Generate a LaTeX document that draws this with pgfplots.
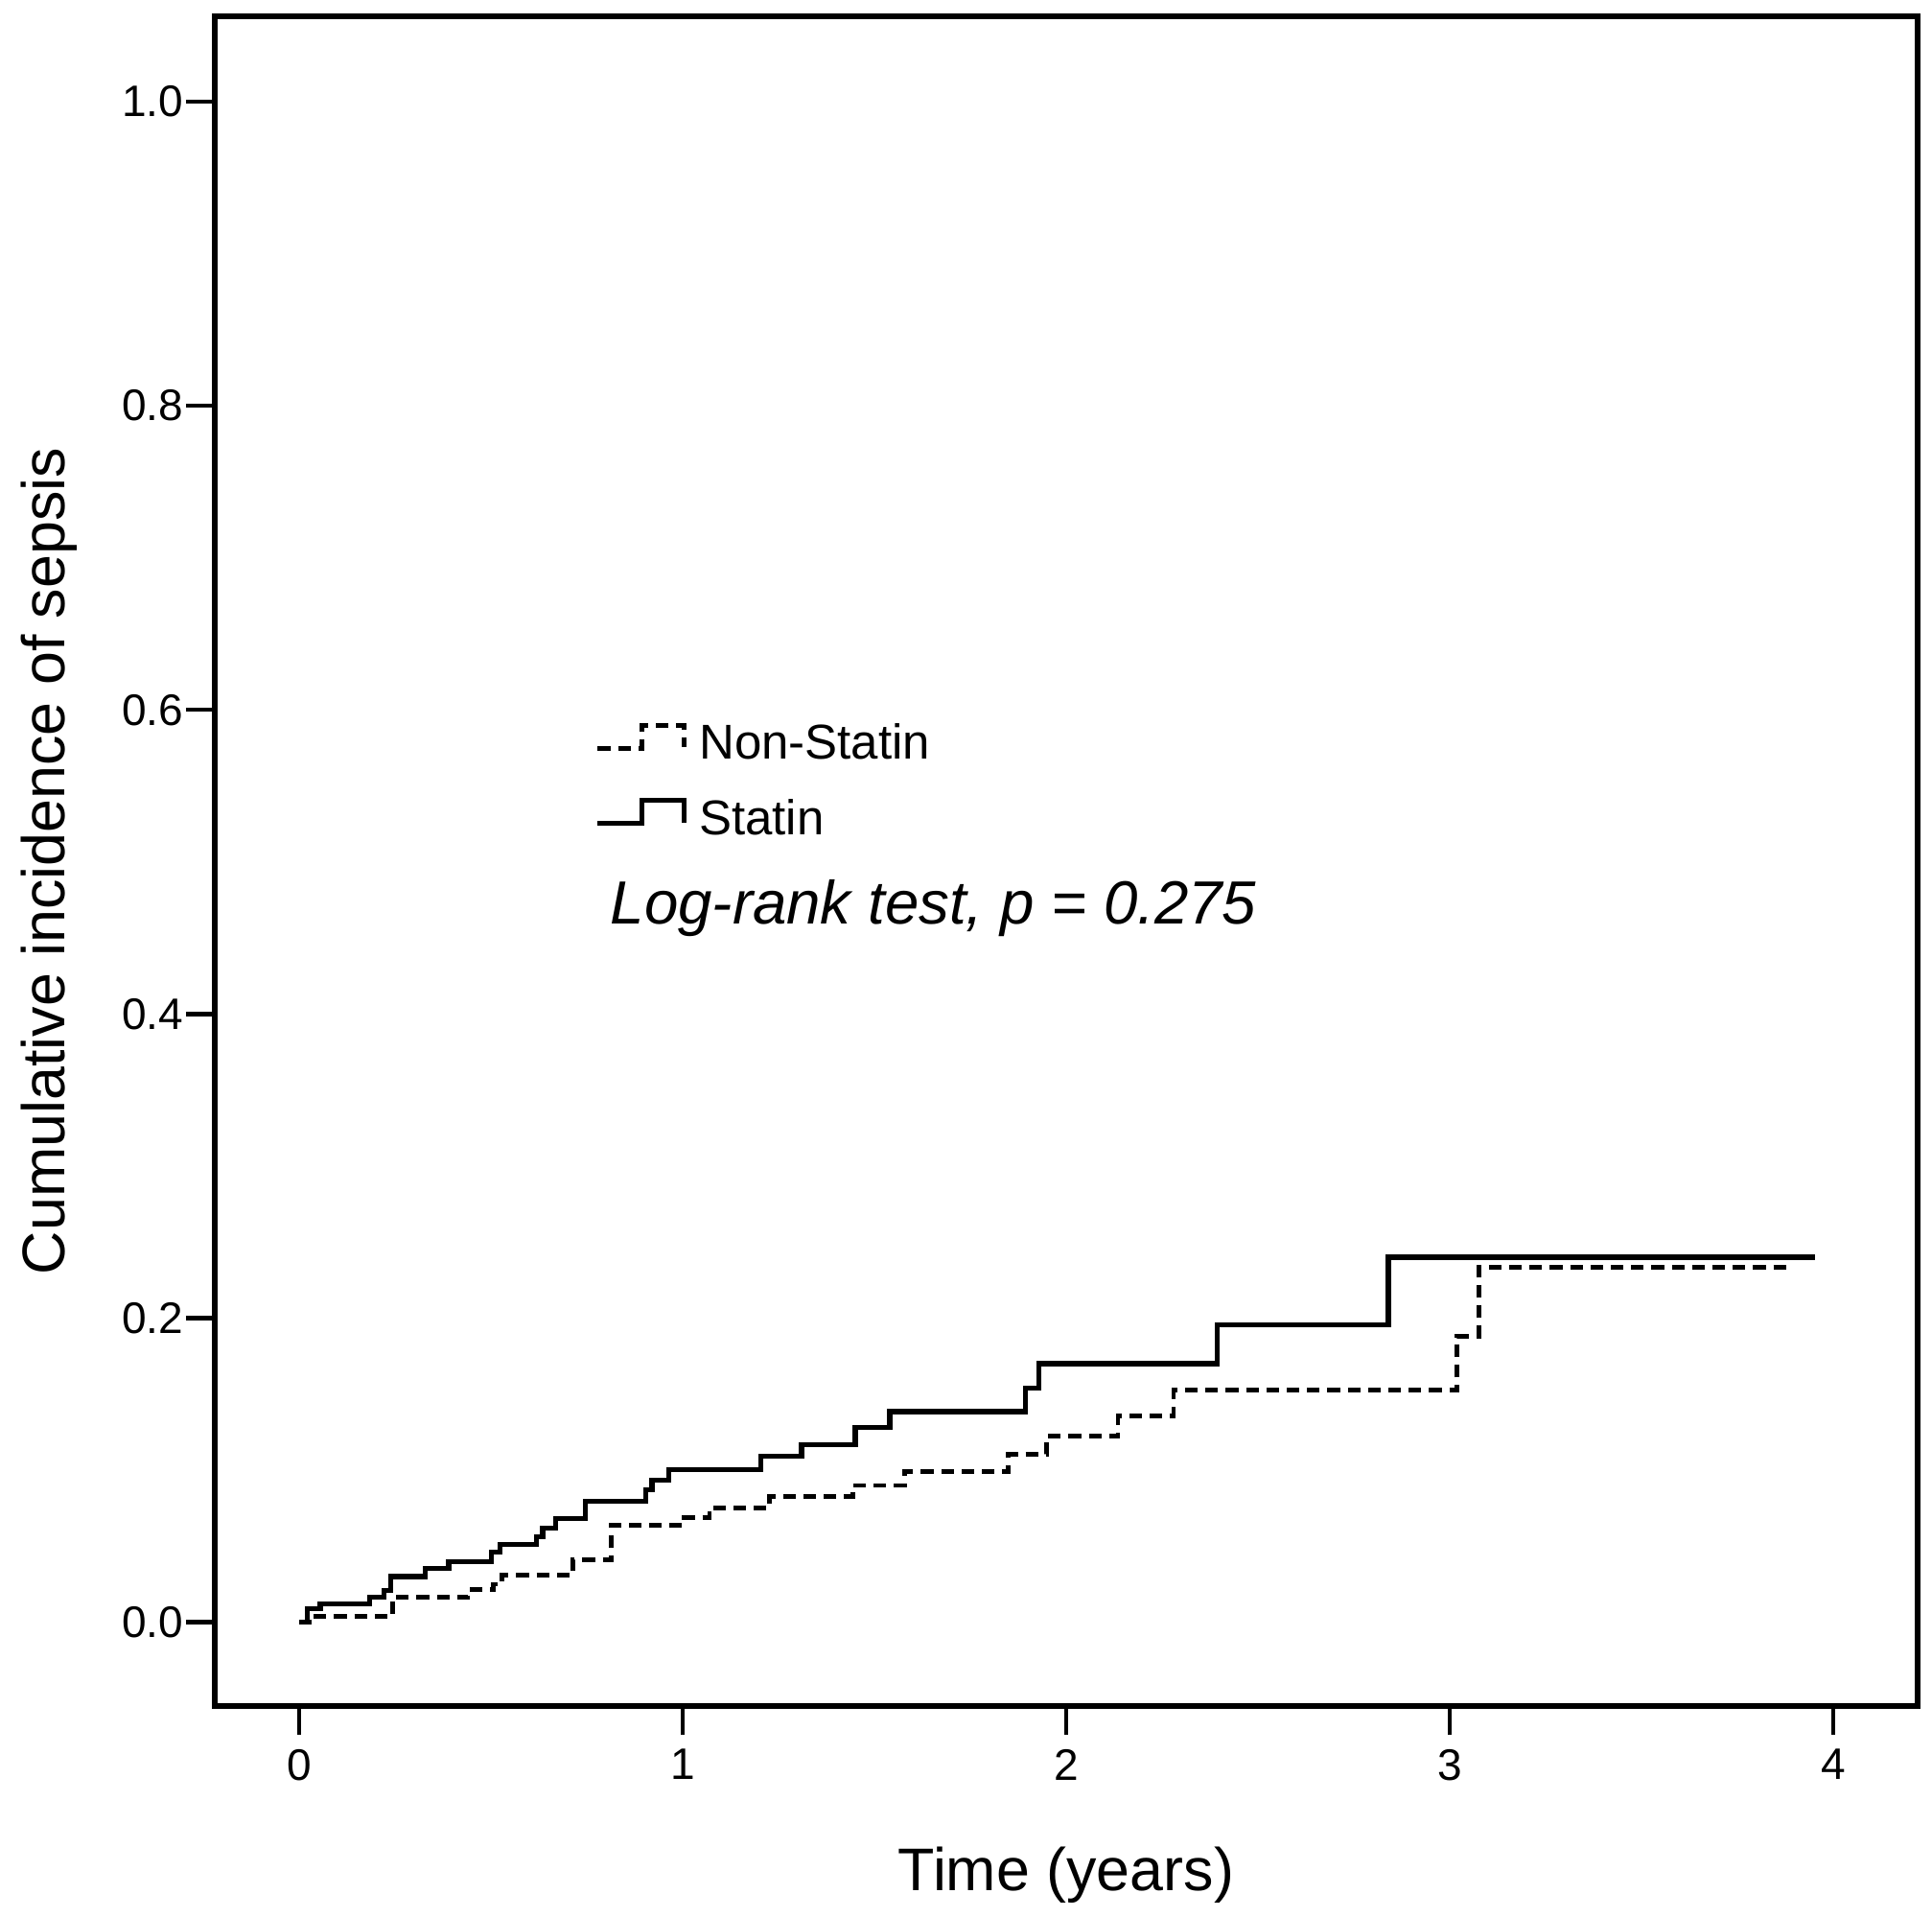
\documentclass[border=0pt]{standalone}
\usepackage{fontspec}
\setmainfont{Liberation Sans}
\usepackage{pgfplots}
\pgfplotsset{compat=1.18}

\begin{document}
\begin{tikzpicture}
\begin{axis}[
  scale only axis,
  width=444pt, height=440.5pt,
  xmin=-0.22, xmax=4.22,
  ymin=-0.0551, ymax=1.0561,
  clip=false,
  xtick pos=bottom, ytick pos=left,
  xtick={0,1,2,3,4},
  xticklabels={0,1,2,3,4},
  ytick={0,0.2,0.4,0.6,0.8,1.0},
  yticklabels={0.0,0.2,0.4,0.6,0.8,1.0},
  tick align=outside,
  major tick length=7.5pt,
  every tick/.style={black, line width=1.1pt},
  axis line style={line width=1.3pt},
  tick label style={font=\fontsize{11.5}{13}\selectfont},
  yticklabel style={inner xsep=0.5pt},
  xticklabel style={inner ysep=3.6pt},
  /pgf/number format/assume math mode=true,
  xlabel={Time (years)},
  ylabel={Cumulative incidence of sepsis},
  label style={font=\fontsize{15.7}{18}\selectfont},
  xlabel style={at={(axis description cs:0.5,-0.1095)}, anchor=base},
  ylabel style={at={(axis description cs:-0.0884,0.5)}, anchor=base},
  legend style={at={(axis cs:0.77,0.592)}, anchor=north west, draw=none, fill=none,
    inner sep=0pt, column sep=3.2pt, row sep=10pt,
    nodes={inner sep=0pt, text depth=0pt},
    font=\fontsize{12.75}{14}\selectfont, cells={anchor=west}},
  legend image code/.code={\draw[#1] (0pt,-1.7pt) -- (11.6pt,-1.7pt) -- (11.6pt,4.3pt) -- (22.6pt,4.3pt) -- (22.6pt,-1.5pt);},
]
\addplot[const plot, black, line width=1.2pt, dash pattern=on 3.3pt off 2pt] coordinates {
(0,0) (0.033,0.0038) (0.244,0.0164) (0.44,0.0213) (0.507,0.025) (0.529,0.031)
(0.713,0.041) (0.814,0.0638) (0.992,0.069) (1.07,0.0753) (1.227,0.0827)
(1.444,0.090) (1.579,0.0991) (1.849,0.1105) (1.949,0.1223) (2.135,0.1357)
(2.28,0.1526) (3.019,0.188) (3.076,0.2336) (3.882,0.2336)
};
\addlegendentry{Non-Statin}
\addplot[const plot, black, line width=1.3pt] coordinates {
(0,0) (0.021,0.009) (0.055,0.0122) (0.183,0.0164) (0.222,0.021) (0.239,0.030)
(0.328,0.0354) (0.390,0.0396) (0.501,0.0459) (0.523,0.051) (0.618,0.0564)
(0.635,0.0617) (0.669,0.068) (0.747,0.0795) (0.903,0.0869) (0.920,0.0932)
(0.964,0.1006) (1.204,0.109) (1.310,0.117) (1.450,0.128) (1.540,0.1385)
(1.893,0.154) (1.928,0.170) (2.394,0.1957) (2.840,0.240) (3.953,0.240)
};
\addlegendentry{Statin}
\node[anchor=base west, inner sep=0pt, font=\fontsize{15.9}{18}\selectfont\itshape] at (axis cs:0.81,0.459) {Log-rank test, p = 0.275};
\path (axis description cs:-0.12613,-0.12316) rectangle (axis description cs:1.00845,1.00965);
\end{axis}
\end{tikzpicture}
\end{document}
